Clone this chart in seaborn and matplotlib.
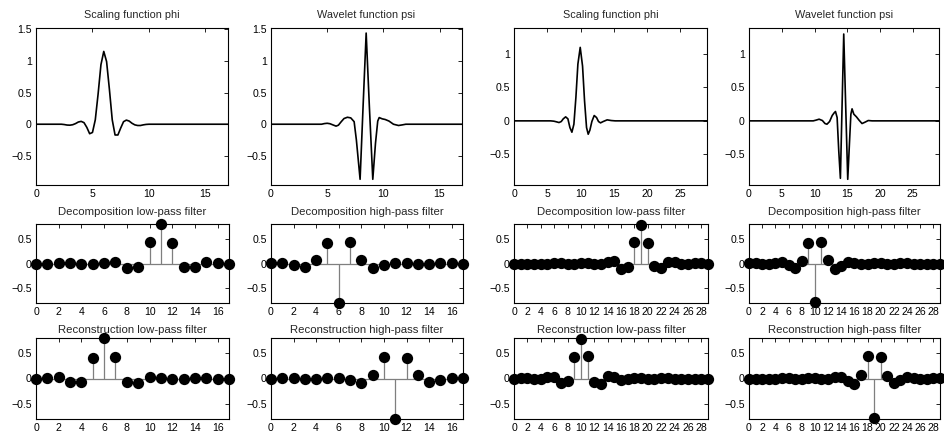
import numpy as np
import pandas as pd
import matplotlib
matplotlib.use("Agg")
import matplotlib.pyplot as plt
import seaborn as sns

# ---------------- data ----------------
# coif3 scaling / wavelet functions
phi3_x = [0, 2.0, 2.25, 2.5, 2.75, 3.0, 3.25, 3.5, 3.75, 4.0, 4.25, 4.5, 4.75, 5.0, 5.25, 5.5, 5.75,
          6.0, 6.25, 6.5, 6.75, 7.0, 7.25, 7.5, 7.75, 8.0, 8.25, 8.5, 8.75, 9.0, 9.25, 9.5, 9.75, 10.0, 17]
phi3_y = [0, 0, 0, -0.005, -0.013, -0.015, -0.008, 0.01, 0.035, 0.045, 0.025, -0.05, -0.15, -0.13,
          0.07, 0.48, 0.94, 1.15, 0.99, 0.55, 0.07, -0.17, -0.17, -0.06, 0.04, 0.065, 0.05, 0.015,
          -0.01, -0.02, -0.02, -0.01, -0.003, 0, 0]

psi3_x = [0, 4.5, 4.75, 5.0, 5.25, 5.5, 5.79, 6.0, 6.25, 6.5, 6.8, 7.1, 7.4, 7.6, 7.93, 8.2, 8.47,
          8.75, 9.06, 9.3, 9.5, 9.63, 9.9, 10.16, 10.5, 10.9, 11.35, 11.7, 12.0, 17]
psi3_y = [0, 0, 0.01, 0.015, 0.008, -0.01, -0.03, -0.015, 0.04, 0.09, 0.11, 0.1, 0.04, -0.25, -0.87,
          0.3, 1.44, 0.3, -0.87, -0.3, 0.05, 0.105, 0.085, 0.075, 0.05, 0.0, -0.02, -0.01, 0, 0]

# coif5 scaling / wavelet functions
phi5_x = [0, 5.5, 6.0, 6.4, 6.76, 7.1, 7.4, 7.76, 8.1, 8.4, 8.7, 9.0, 9.3, 9.6, 9.95, 10.3, 10.6,
          10.9, 11.15, 11.4, 11.7, 12.05, 12.4, 12.7, 13.0, 13.4, 14.0, 14.6, 15.2, 29]
phi5_y = [0, 0, -0.005, -0.015, -0.025, -0.01, 0.03, 0.06, 0.03, -0.1, -0.17, -0.05, 0.35, 0.85,
          1.10, 0.82, 0.3, -0.1, -0.2, -0.14, -0.01, 0.08, 0.05, -0.01, -0.03, -0.01, 0.015, 0.005, 0, 0]

psi5_x = [0, 9.8, 10.2, 10.7, 11.2, 11.6, 11.9, 12.3, 12.7, 13.0, 13.2, 13.45, 13.7, 13.95, 14.2,
          14.46, 14.75, 15.07, 15.35, 15.55, 15.73, 16.0, 16.4, 16.8, 17.25, 17.7, 18.2, 18.8, 19.5, 29]
psi5_y = [0, 0, 0.01, 0.025, 0.005, -0.04, -0.05, -0.01, 0.08, 0.12, 0.14, 0.05, -0.45, -0.86, 0.2,
          1.3, 0.25, -0.875, -0.3, 0.1, 0.18, 0.1, 0.06, 0.01, -0.04, -0.02, 0.005, 0.0, 0, 0]

# coif3 filters (18 taps)
c3_dec_lo = [-0.00003, -0.00007, 0.00047, 0.00112, -0.00257, -0.00901, 0.01588, 0.03456, -0.08230,
             -0.07180, 0.42848, 0.79378, 0.40518, -0.06112, -0.06577, 0.02345, 0.00778, -0.00379]
c3_dec_hi = [0.00379, 0.00778, -0.02345, -0.06577, 0.06112, 0.40518, -0.79378, 0.42848, 0.07180,
             -0.08230, -0.03456, 0.01588, 0.00901, -0.00257, -0.00112, 0.00047, 0.00007, -0.00003]
c3_rec_lo = [-0.00379, 0.00778, 0.02345, -0.06577, -0.06112, 0.40518, 0.79378, 0.42848, -0.07180,
             -0.08230, 0.03456, 0.01588, -0.00901, -0.00257, 0.00112, 0.00047, -0.00007, -0.00003]
c3_rec_hi = [-0.00003, 0.00007, 0.00047, -0.00112, -0.00257, 0.00901, 0.01588, -0.03456, -0.08230,
             0.07180, 0.42848, -0.79378, 0.40518, 0.06112, -0.06577, -0.02345, 0.00778, 0.00379]

# coif5 filters (30 taps)
c5_dec_lo = [0.0, 0.0, 0.0, 0.0, -0.00002, -0.00004, 0.00014, 0.00030, -0.00064, -0.00166, 0.00243,
             0.00676, -0.00916, -0.01976, 0.03268, 0.04129, -0.10557, -0.06204, 0.43799, 0.77429,
             0.42157, -0.05204, -0.09192, 0.02817, 0.02341, -0.01013, -0.00416, 0.00218, 0.00036, -0.00021]
c5_dec_hi = [0.00021, 0.00036, -0.00218, -0.00416, 0.01013, 0.02341, -0.02817, -0.09192, 0.05204,
             0.42157, -0.77429, 0.43799, 0.06204, -0.10557, -0.04129, 0.03268, 0.01976, -0.00916,
             -0.00676, 0.00243, 0.00166, -0.00064, -0.00030, 0.00014, 0.00004, -0.00002, 0.0, 0.0, 0.0, 0.0]
c5_rec_lo = [-0.00021, 0.00036, 0.00218, -0.00416, -0.01013, 0.02341, 0.02817, -0.09192, -0.05204,
             0.42157, 0.77429, 0.43799, -0.06204, -0.10557, 0.04129, 0.03268, -0.01976, -0.00916,
             0.00676, 0.00243, -0.00166, -0.00064, 0.00030, 0.00014, -0.00004, -0.00002, 0.0, 0.0, 0.0, 0.0]
c5_rec_hi = [0.0, 0.0, 0.0, 0.0, -0.00002, 0.00004, 0.00014, -0.00030, -0.00064, 0.00166, 0.00243,
             -0.00676, -0.00916, 0.01976, 0.03268, -0.04129, -0.10557, 0.06204, 0.43799, -0.77429,
             0.42157, 0.05204, -0.09192, -0.02817, 0.02341, 0.01013, -0.00416, -0.00218, 0.00036, 0.00021]

titles_top = ["Scaling function phi", "Wavelet function psi"]
titles_filt = ["Decomposition low-pass filter", "Decomposition high-pass filter",
               "Reconstruction low-pass filter", "Reconstruction high-pass filter"]

# ---------------- style ----------------
sns.set_theme(style="white")
plt.rcParams['font.family'] = ['Liberation Sans', 'DejaVu Sans']
plt.rcParams['axes.unicode_minus'] = True

W, H = 944, 434
fig = plt.figure(figsize=(W / 100, H / 100), dpi=100)
fig.patch.set_facecolor("white")


def add_ax(l, r, t, b):
    return fig.add_axes([l / W, 1 - b / H, (r - l) / W, (b - t) / H])


def style(ax):
    for s in ax.spines.values():
        s.set_color("black")
        s.set_linewidth(0.8)
    ax.tick_params(direction="in", length=3, width=0.6, top=True, right=True,
                   labelsize=7.6, pad=3, colors="black")
    ax.set_xlabel("")
    ax.set_ylabel("")


def fmt(v):
    s = ("%g" % v)
    return s.replace("-", "\u2212")


def func_panel(ax, xs, ys, n, ylim, title, xt):
    sns.lineplot(x=xs, y=ys, ax=ax, color="black", linewidth=1.2, sort=False, estimator=None)
    ax.set_xlim(0, n)
    ax.set_ylim(*ylim)
    yt = [-0.5, 0, 0.5, 1, 1.5] if ylim[1] >= 1.5 else [-0.5, 0, 0.5, 1]
    ax.set_yticks(yt)
    ax.set_yticklabels([fmt(v) for v in yt])
    ax.set_xticks(xt)
    ax.set_xticklabels([fmt(v) for v in xt])
    ax.set_title(title, fontsize=7.8, pad=7.5)
    style(ax)


def filt_panel(ax, vals, title, pad):
    n = len(vals)
    idx = np.arange(n)
    df = pd.DataFrame({"k": idx, "v": vals})
    ax.hlines(0, 0, n - 1, color="#7f7f7f", linewidth=0.9, zorder=2)
    ax.vlines(df["k"], 0, df["v"], color="#7f7f7f", linewidth=0.9, zorder=2)
    sns.scatterplot(data=df, x="k", y="v", ax=ax, color="black", s=66, linewidth=0,
                    zorder=4, clip_on=False, legend=False)
    ax.set_xlim(0, n - 1)
    ax.set_ylim(-0.794, 0.794)
    ax.set_yticks([-0.5, 0, 0.5])
    ax.set_yticklabels([fmt(v) for v in [-0.5, 0, 0.5]])
    xt = list(range(0, n, 2))
    ax.set_xticks(xt)
    ax.set_xticklabels([str(v) for v in xt])
    ax.set_title(title, fontsize=8.2, pad=pad)
    style(ax)


cols_top = [(36, 228), (271, 462), (514, 707), (749, 939)]
cols_flt = [(36, 229), (271, 463), (514, 708), (749, 940)]

ylim3 = (-0.96, 1.52)
ylim5 = (-0.96, 1.39)

ax = add_ax(*cols_top[0], 28, 185)
func_panel(ax, phi3_x, phi3_y, 17, ylim3, titles_top[0], [0, 5, 10, 15])
ax = add_ax(*cols_top[1], 28, 185)
func_panel(ax, psi3_x, psi3_y, 17, ylim3, titles_top[1], [0, 5, 10, 15])
ax = add_ax(*cols_top[2], 28, 185)
func_panel(ax, phi5_x, phi5_y, 29, ylim5, titles_top[0], [0, 5, 10, 15, 20, 25])
ax = add_ax(*cols_top[3], 28, 185)
func_panel(ax, psi5_x, psi5_y, 29, ylim5, titles_top[1], [0, 5, 10, 15, 20, 25])

rows = [(224, 303), (338, 419)]
pads = [6.5, 3.5]
f3 = [c3_dec_lo, c3_dec_hi, c3_rec_lo, c3_rec_hi]
f5 = [c5_dec_lo, c5_dec_hi, c5_rec_lo, c5_rec_hi]
for i in range(4):
    r = rows[i // 2]
    p = pads[i // 2]
    c = i % 2
    ax = add_ax(*cols_flt[c], *r)
    filt_panel(ax, f3[i], titles_filt[i], p)
    ax = add_ax(*cols_flt[2 + c], *r)
    filt_panel(ax, f5[i], titles_filt[i], p)

fig.savefig("out.png", dpi=100, facecolor="white")
